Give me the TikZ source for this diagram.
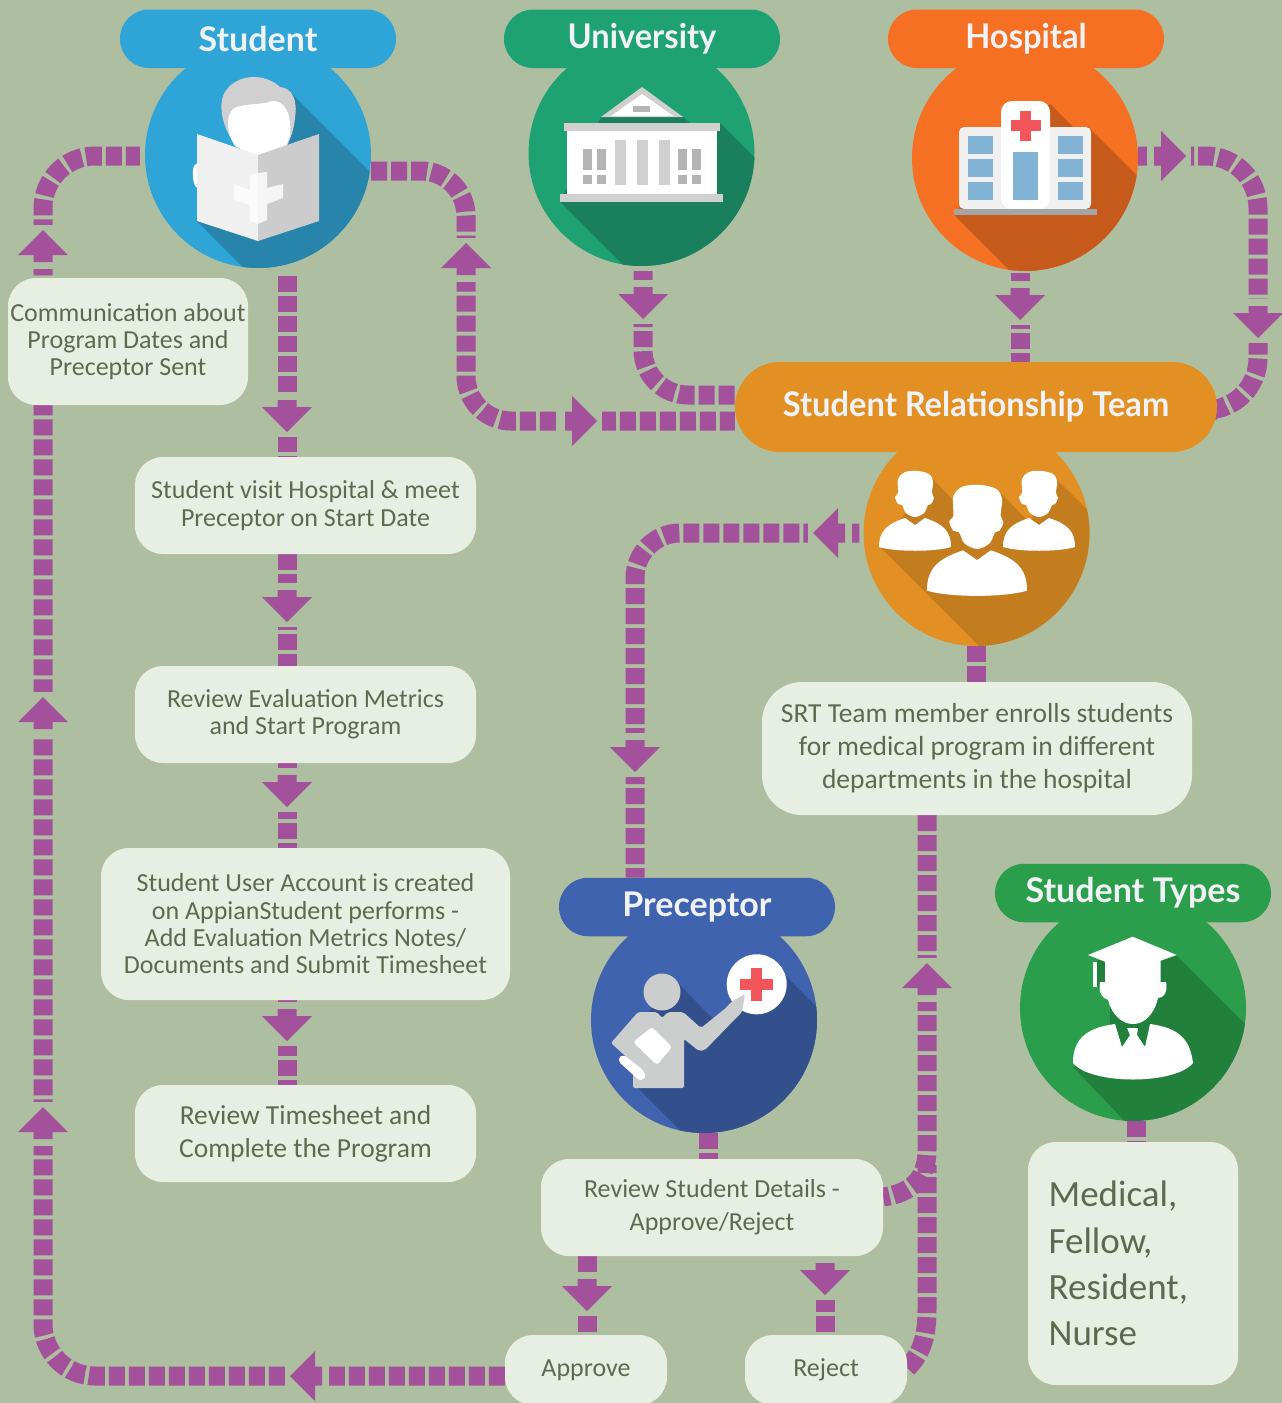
\documentclass[tikz,border=0pt]{standalone}
\usepackage{fontspec}
\setmainfont{Carlito}
\newfontfamily\titlefont{Lato}[BoldFont={Lato Bold}]
\definecolor{bgc}{HTML}{AEBEA0}
\definecolor{flowc}{HTML}{A4519C}
\definecolor{boxc}{HTML}{E7EFE3}
\definecolor{txtc}{HTML}{5E6A50}
\definecolor{titlec}{HTML}{F0F2F5}
\definecolor{stuc}{HTML}{2FA4D6}\definecolor{stud}{HTML}{2784AB}
\definecolor{unic}{HTML}{1FA273}\definecolor{unid}{HTML}{1A7F5C}
\definecolor{hosc}{HTML}{F57022}\definecolor{hosd}{HTML}{C55A1B}
\definecolor{srtc}{HTML}{E29024}\definecolor{srtd}{HTML}{C47D1E}
\definecolor{prec}{HTML}{4063AF}\definecolor{pred}{HTML}{34508C}
\definecolor{typc}{HTML}{2B9E4B}\definecolor{typd}{HTML}{22803D}
\definecolor{gl}{HTML}{D0D0D0}\definecolor{gm}{HTML}{B4B4B4}
\definecolor{redx}{HTML}{F2555A}\definecolor{bluw}{HTML}{82B3D4}
\pgfdeclarelayer{bgl}\pgfdeclarelayer{flowl}\pgfsetlayers{bgl,flowl,main}
\tikzset{
 x=1pt,y=-1pt,
 flow/.style={draw=flowc,line width=19pt,dash pattern=on 16pt off 4pt},
 flowr/.style={flow,rounded corners=45pt},
 disc/.style={circle,minimum size=226pt,inner sep=0pt,fill=#1},
 pill/.style={rectangle,rounded corners=29pt,minimum width=276pt,minimum height=58.5pt,inner sep=0pt,fill=#1,text=titlec,font=\titlefont\bfseries\fontsize{34}{38}\selectfont},
 infobox/.style={rectangle,rounded corners=28pt,fill=boxc,text=txtc,inner sep=0pt,align=center},
 small/.style={font=\fontsize{26}{27.3}\selectfont},
 mid/.style={font=\fontsize{27.5}{33}\selectfont},
 flowhead/.pic={
  \fill[bgc] (-10.5,-5) rectangle (10.5,39);
  \fill[flowc] (0,0) -- (25,25) -- (9.5,25) -- (9.5,32) -- (-9.5,32) -- (-9.5,25) -- (-25,25) -- cycle;
 },
 person/.pic={
  \fill[white] plot[smooth cycle,tension=.55] coordinates {(-17,8)(-10,1)(3,0)(14,3)(18,10)(17,22)(19,27)(16,33)(13,34)(9,42)(0,46)(-9,42)(-13,34)(-17,33)(-20,26)(-17,22)};
  \fill[white] (-10,47) -- (0,54) -- (10,47) .. controls (28,53) and (36,60) .. (36,76) .. controls (20,81) and (-20,81) .. (-36,76) .. controls (-36,60) and (-28,53) .. (-10,47) -- cycle;
 },
}
\begin{document}
\begin{tikzpicture}
\begin{pgfonlayer}{bgl}
\fill[bgc] (0,0) rectangle (1282,1403);
\end{pgfonlayer}
\useasboundingbox (0,0) rectangle (1282,1403);

% helper columns and rows
\coordinate (colL) at (43,0);
\coordinate (colS) at (287,0);
\coordinate (colU) at (466,0);
\coordinate (colP) at (635,0);
\coordinate (colN) at (643,0);
\coordinate (colH) at (1020,0);
\coordinate (colR) at (1258,0);
\coordinate (colT) at (927,0);
\coordinate (colD) at (976,0);
\coordinate (colV) at (708,0);
\coordinate (colA) at (587,0);
\coordinate (colJ) at (825,0);
\coordinate (colY) at (1136,0);
\coordinate (rowB) at (0,1376);
\coordinate (rowA) at (0,171);
\coordinate (rowC) at (0,421);
\coordinate (rowD) at (0,395);
\coordinate (rowH) at (0,156);
\coordinate (rowG) at (0,533);
\coordinate (rowE) at (0,410);

% ---------- discs ----------
\node[disc=stuc] (stu) at (258,155) {};
\node[disc=unic] (uni) at (641.5,153) {};
\node[disc=hosc] (hos) at (1025,158) {};
\node[disc=srtc] (srt) at (976.5,533) {};
\node[disc=prec] (pre) at (704,1020) {};
\node[disc=typc] (typ) at (1133,1008) {};

% ---------- Student icon ----------
\begin{scope}
\clip (stu.center) circle (113pt);
\fill[stud] (290,92) -- (390,192) -- (390,320) -- (296,320) -- (197,221) -- (258,155) -- cycle;
\end{scope}
\fill[gl] (233,142) .. controls (222,125) and (216,100) .. (228,88) .. controls (240,74) and (265,73) .. (280,87) .. controls (292,88) and (298,100) .. (295,118) .. controls (294,130) and (290,140) .. (285,150) -- cycle;
\fill[white] (235,146) .. controls (225,130) and (226,112) .. (236,107) .. controls (250,103) and (262,105) .. (272,101) .. controls (285,100) and (292,115) .. (290,135) -- (285,150) -- (258,158) -- cycle;
\fill[white] (197.5,163) .. controls (192,164) and (192,175) .. (194,183) .. controls (196,190) and (201,190) .. (203,183) -- (203,163) -- cycle;
\fill[white!88!gray] (197,134) -- (258,155) -- (258,241) -- (197,221) -- cycle;
\fill[gl!95!gray] (258,155) -- (319,134) -- (319,221) -- (258,241) -- cycle;
\fill[white!97!gray] (234,184) -- (250,190) -- (250,175) -- (258,173) -- (258,224) -- (250,221) -- (250,205) -- (234,200) -- cycle;
\fill[white!92!gray] (258,173) -- (267,172) -- (267,188) -- (283,184) -- (283,198) -- (267,204) -- (267,220) -- (258,224) -- cycle;

% ---------- University icon ----------
\begin{scope}
\clip (uni.center) circle (113pt);
\fill[unid] (601,117) -- (683,117) -- (690,123) -- (720,123) -- (820,223) -- (820,300) -- (658,300) -- (560,202) -- cycle;
\end{scope}
\fill[gl] (601,117) -- (642,87) -- (683,117) -- cycle;
\fill[white] (611,116) -- (642,94) -- (673.5,116) -- cycle;
\fill[gm] (633,106) rectangle (650,112);
\fill[gl] (564,123) rectangle (720,131);
\fill[white] (567,131) rectangle (716.5,194);
\fill[gl] (560,194) rectangle (723,202);
\foreach \a in {615,637,659} \fill[gl] (\a,140) rectangle ++(11,45);
\foreach \a in {583,597,678,692} {\fill[gm] (\a,149) rectangle ++(9,21); \fill[gm] (\a,175) rectangle ++(9,9);}

% ---------- Hospital icon ----------
\begin{scope}
\clip (hos.center) circle (113pt);
\fill[hosd] (1050,104) -- (1073,127) -- (1088,127) -- (1188,227) -- (1188,320) -- (1059,320) -- (954,215) -- (1001,150) -- cycle;
\end{scope}
\fill[white!88!gray,rounded corners=5pt] (959,209) -- (959,127) -- (1091,127) -- (1091,209) -- cycle;
\fill[white,rounded corners=11pt] (1001,209) -- (1001,101) -- (1050,101) -- (1050,209) -- cycle;
\fill[gm!92!black] (954,209) rectangle (1097,215);
\fill[redx] (1020,111) rectangle (1031,141);
\fill[redx] (1011,120) rectangle (1041,131);
\fill[bluw] (1013,152) rectangle (1038,200);
\foreach \a in {968,1058} \foreach \b in {136,159,182} \fill[bluw] (\a,\b) rectangle ++(25,18);

% ---------- SRT icon ----------
\begin{scope}
\clip (srt.center) circle (113pt);
\fill[srtd] (880,547) -- (979,646) -- (1100,646) -- (1100,522) -- (1055,478) -- (1040,500) -- (1030,523) -- (1025,518) -- (998,490) -- (985,510) -- (965,512) -- (955,502) -- (932,478) -- (915,500) -- cycle;
\end{scope}
\pic at (915,471) {person};
\pic at (1039,471) {person};
\pic[scale=1.39] at (977,485) {person};

% ---------- Preceptor icon ----------
\begin{scope}
\clip (pre.center) circle (113pt);
\fill[pred] (678,983) -- (712,1018) -- (745,1012) -- (780,970) -- (880,1070) -- (880,1200) -- (750,1200) -- (638,1088) -- (640,1020) -- cycle;
\end{scope}
\fill[white] (756.7,984.3) circle (30pt);
\fill[redx] (751,968) rectangle (762,1001);
\fill[redx] (740,979) rectangle (773,990);
\definecolor{gb}{HTML}{CCCECE}
\fill[gb] (662,992) circle (18.5pt);
\fill[gb,rounded corners=2pt] (638,1012) -- (657,1012) -- (662,1018) -- (668,1012) -- (683,1012) -- (701,1028) -- (727,1007) -- (731,1002) -- (745,994) -- (742,1012) -- (736,1018) -- (705,1050) -- (699,1051) -- (684,1039) -- (684,1088) -- (633,1088) -- (633,1063) -- (611,1043) -- cycle;
\fill[white,rounded corners=3pt] (652,1027) -- (672,1047) -- (657,1065) -- (633,1042) -- cycle;
\fill[white,rounded corners=2pt] (619,1057) -- (624,1055) -- (643,1070) -- (646,1077) -- (640,1081) -- (619,1062) -- cycle;

% ---------- Student Types icon ----------
\begin{scope}
\clip (typ.center) circle (113pt);
\fill[typd] (1176,955) -- (1276,1055) -- (1276,1200) -- (1200,1200) -- (1073,1067) -- (1110,1040) -- (1110,1005) -- (1097,985) -- (1097,960) -- cycle;
\end{scope}
\fill[white] (1132.7,936.7) -- (1176.7,955) -- (1160.7,960.7) -- (1160.7,985) -- (1105,985) -- (1105,961.7) -- (1088,955) -- cycle;
\fill[white] (1093,962) rectangle (1097,987);
\fill[white] (1100,982) .. controls (1098,992) and (1102,998) .. (1108,1000) .. controls (1112,1015) and (1122,1024) .. (1133,1024) .. controls (1144,1024) and (1154,1015) .. (1158,998) .. controls (1164,998) and (1168,992) .. (1166,982) -- cycle;
\fill[white] (1115,1024) -- (1122,1047) -- (1130,1035) -- (1127,1028) -- (1138,1028) -- (1137,1035) -- (1145,1047) -- (1150,1024) .. controls (1180,1028) and (1190,1040) .. (1193,1063) .. controls (1175,1085) and (1091,1085) .. (1073,1063) .. controls (1073,1040) and (1085,1028) .. (1115,1024) -- cycle;

% ---------- Pills ----------
\node[pill=stuc] (pStu) at (258,38.75) {\raisebox{-1pt}{Student}};
\node[pill=unic] (pUni) at (642,38.75) {\scalebox{.96}[1]{University}};
\node[pill=hosc] (pHos) at (1026,38.75) {\scalebox{.96}[1]{Hospital}};
\node[pill=srtc,minimum width=482pt,minimum height=90pt,rounded corners=45pt] (pSrt) at (976,407) {\scalebox{.96}[1]{Student Relationship Team}};
\node[pill=prec] (pPre) at (697,907) {Preceptor};
\node[pill=typc] (pTyp) at (1133,893) {Student Types};

% ---------- Text boxes ----------
\node[infobox,small,minimum width=240pt,minimum height=127pt] (bCom) at (128,341.5) {Communication about\\Program Dates and\\Preceptor Sent};
\node[infobox,small,minimum width=341pt,minimum height=97pt] (bVis) at (305.5,505.5) {Student visit Hospital \& meet\\Preceptor on Start Date};
\node[infobox,small,minimum width=341pt,minimum height=97pt] (bRev) at (305.5,714.5) {Review Evaluation Metrics\\and Start Program};
\node[infobox,small,minimum width=409pt,minimum height=152pt] (bAcc) at (305.5,924) {Student User Account is created\\on AppianStudent performs -\\Add Evaluation Metrics Notes/\\Documents and Submit Timesheet};
\node[infobox,mid,minimum width=341pt,minimum height=97pt] (bTim) at (305.5,1133.5) {Review Timesheet and\\Complete the Program};
\node[infobox,mid,rounded corners=40pt,minimum width=430pt,minimum height=133pt] (bEnr) at (977,748.5) {SRT Team member enrolls students\\for medical program in different\\departments in the hospital};
\node[infobox,small,minimum width=342pt,minimum height=97pt,font=\fontsize{26}{33}\selectfont] (bDet) at (712,1207.5) {Review Student Details -\\Approve/Reject};
\node[infobox,small,minimum width=162pt,minimum height=70pt] (bApp) at (586,1370) {Approve};
\node[infobox,small,minimum width=162pt,minimum height=70pt] (bRej) at (826,1370) {Reject};
\node[infobox,minimum width=210pt,minimum height=243pt,align=left,font=\fontsize{37}{46.4}\selectfont] (bTyp) at (1133,1263.5) {Medical,\kern40pt\\Fellow,\\Resident,\\Nurse};

% ---------- Connectors ----------
\begin{pgfonlayer}{flowl}
\draw[flow,rounded corners=52pt] (bApp.west |- rowB) -- (colL |- rowB) -- (colL |- rowH) -- ([xshift=-5pt]stu.west |- rowH);
\draw[flowr] (stu.east |- rowA) -- (colU |- rowA) -- (colU |- rowC) -- (pSrt.west |- rowC);
\draw[flowr] ([yshift=-5pt]colN |- uni.south) -- (colN |- rowD) -- (pSrt.west |- rowD);
\draw[flow] ([yshift=-2pt]colH |- hos.south) -- (colH |- pSrt.south);
\draw[flow,rounded corners=52pt] (hos.east |- rowH) -- (colR |- rowH) -- (colR |- rowE) -- (pSrt.east |- rowE);
\draw[flowr] ([xshift=-4pt]srt.west |- rowG) -- (colP |- rowG) -- (colP |- pPre.north);
\draw[flow] (colD |- srt.south) -- (colD |- bEnr.north);
\draw[flow] ([yshift=-8pt]colS |- stu.south) -- (colS |- bVis.north);
\draw[flow] (colS |- bVis.south) -- (colS |- bRev.north);
\draw[flow] (colS |- bRev.south) -- (colS |- bAcc.north);
\draw[flow] (colS |- bAcc.south) -- (colS |- bTim.north);
\draw[flow] (colV |- pre.south) -- (colV |- bDet.north);
\draw[flow] (colA |- bDet.south) -- (colA |- bApp.north);
\draw[flow] (colJ |- bDet.south) -- (colJ |- bRej.north);
\draw[flow] (colY |- typ.south) -- (colY |- bTyp.north);
\draw[flow] (colT |- bEnr.south) -- ++(0,335) .. controls ++(0,28) and (912,1193) .. (bDet.east |- 0,1197);
\draw[flow] (bRej.east |- 0,1368) .. controls (920,1355) and (927,1340) .. (927,1310) -- (colT |- 0,1165);
% arrowheads
\pic at (43,230) {flowhead};
\pic at (43,697) {flowhead};
\pic at (43,1107) {flowhead};
\pic[rotate=90] at (290,1376) {flowhead};
\pic at (466,243) {flowhead};
\pic[rotate=-90] at (597,421) {flowhead};
\pic[rotate=180] at (643,319) {flowhead};
\pic[rotate=180] at (1020,320) {flowhead};
\pic[rotate=-90] at (1186,156) {flowhead};
\pic[rotate=180] at (1258,338) {flowhead};
\pic[rotate=90] at (813,533) {flowhead};
\pic[rotate=180] at (635,772) {flowhead};
\pic at (927,963) {flowhead};
\pic[rotate=180] at (287,432) {flowhead};
\pic[rotate=180] at (287,622) {flowhead};
\pic[rotate=180] at (287,807) {flowhead};
\pic[rotate=180] at (287,1041) {flowhead};
\pic[rotate=180] at (587,1311) {flowhead};
\pic[rotate=180] at (825,1295) {flowhead};
\end{pgfonlayer}
\end{tikzpicture}
\end{document}
